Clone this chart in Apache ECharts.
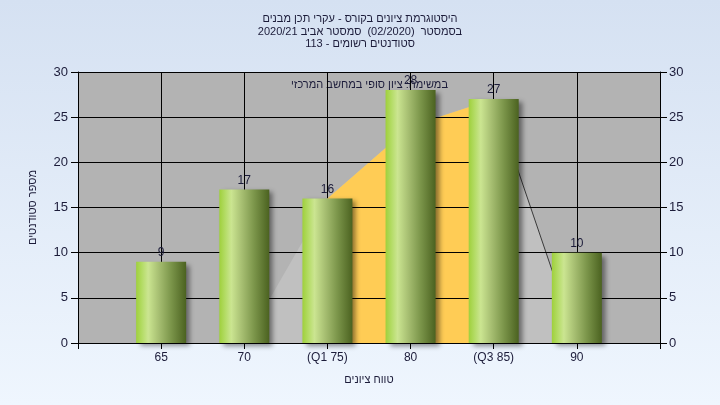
<!DOCTYPE html>
<html>
<head>
<meta charset="utf-8">
<script src="https://cdn.jsdelivr.net/npm/echarts@6/dist/echarts.min.js"></script>
<style>
html,body{margin:0;padding:0;}
#chart{width:720px;height:405px;}
</style>
</head>
<body>
<div id="chart"></div>
<script>
// ---- data ----
const titleLines = [
  'היסטוגרמת ציונים בקורס - עקרי תכן מבנים',
  'בסמסטר  (02/2020)  סמסטר אביב 2020/21',
  'סטודנטים רשומים - 113'
];
const noteText = 'במשימה: ציון סופי במחשב המרכזי';
const xAxisName = 'טווח ציונים';
const yAxisName = 'מספר סטודנטים';
const grades = [65, 70, 75, 80, 85, 90];
const gradeLabels = ['65', '70', '(Q1 75)', '80', '(Q3 85)', '90'];
const counts = [9, 17, 16, 28, 27, 10];
const curveGrades = [65, 70, 75, 80, 85, 90];
const curveValues = [0, 0, 16, 24, 27, 0];
const iqrGrades = [75, 80, 85];
const iqrValues = [16, 24, 27];
const tailGrades = [85, 90];
const tailValues = [27, 0];

const FONT = '"Liberation Sans", "DejaVu Sans", Arial, sans-serif';
const TXT = '#1c1c3a';

const pairs = (xs, ys) => xs.map((x, i) => [x, ys[i]]);
const labelFor = v => { const i = grades.indexOf(v); return i >= 0 ? gradeLabels[i] : ''; };

const chart = echarts.init(document.getElementById('chart'));
chart.setOption({
  backgroundColor: {type: 'linear', x: 0, y: 0, x2: 0, y2: 1,
    colorStops: [{offset: 0, color: '#d5e1f2'}, {offset: 1, color: '#eff6fe'}]},
  textStyle: {fontFamily: FONT},
  title: {
    text: titleLines.join('\n'), left: 'center', top: 8,
    textStyle: {fontSize: 11, fontWeight: 'normal', color: TXT, lineHeight: 12.5, fontFamily: FONT}
  },
  graphic: [{
    type: 'text', left: 291, top: 79,
    style: {text: noteText, font: '11px ' + FONT, fill: TXT}
  }],
  grid: {left: 78, right: 60, top: 72, bottom: 62, show: true, backgroundColor: '#b3b3b3', borderWidth: 0},
  xAxis: [{
    type: 'value', min: 60, max: 95, interval: 5, z: 0,
    axisLine: {show: false}, axisTick: {show: false}, axisLabel: {show: false},
    splitLine: {show: true, lineStyle: {color: '#000', width: 1}}
  }, {
    type: 'value', min: 60, max: 95, interval: 5, z: 5, position: 'bottom',
    axisLine: {show: true, onZero: false, lineStyle: {color: '#000', width: 1}},
    axisTick: {show: true, length: 6, lineStyle: {color: '#000'}},
    splitLine: {show: false},
    axisLabel: {show: true, margin: 9, fontSize: 12, color: TXT, fontFamily: FONT, formatter: labelFor},
    name: xAxisName, nameLocation: 'middle', nameGap: 31,
    nameTextStyle: {fontSize: 11, color: TXT, fontFamily: FONT}
  }],
  yAxis: [{
    type: 'value', min: 0, max: 30, interval: 5, position: 'left', z: 5,
    axisLine: {show: true, lineStyle: {color: '#000'}},
    axisTick: {show: true, length: 7, lineStyle: {color: '#000'}},
    axisLabel: {margin: 10, fontSize: 13, color: TXT, fontFamily: FONT},
    splitLine: {show: true, lineStyle: {color: '#000', width: 1}},
    name: yAxisName, nameLocation: 'middle', nameRotate: 90, nameGap: 40,
    nameTextStyle: {fontSize: 11, color: TXT, fontFamily: FONT}
  }, {
    type: 'value', min: 0, max: 30, interval: 5, position: 'right', z: 5,
    axisLine: {show: true, lineStyle: {color: '#000'}},
    axisTick: {show: true, length: 7, lineStyle: {color: '#000'}},
    axisLabel: {margin: 9, fontSize: 13, color: TXT, fontFamily: FONT},
    splitLine: {show: false}
  }],
  series: [{
    type: 'line', xAxisIndex: 0, yAxisIndex: 0, z: 2, silent: true,
    data: pairs(curveGrades, curveValues), symbol: 'none',
    lineStyle: {width: 0, opacity: 0},
    areaStyle: {color: '#c0c0c0', opacity: 1}
  }, {
    type: 'line', xAxisIndex: 0, yAxisIndex: 0, z: 2, silent: true,
    data: pairs(iqrGrades, iqrValues), symbol: 'none',
    lineStyle: {width: 0, opacity: 0},
    areaStyle: {color: '#ffcc55', opacity: 1}
  }, {
    type: 'line', xAxisIndex: 0, yAxisIndex: 0, z: 2, silent: true,
    data: pairs(tailGrades, tailValues), symbol: 'none',
    lineStyle: {width: 1, color: '#3a3a3a'}
  }, {
    type: 'bar', xAxisIndex: 0, yAxisIndex: 0, z: 6,
    data: pairs(grades, counts), barWidth: 50,
    itemStyle: {
      color: {type: 'linear', x: 0, y: 0, x2: 1, y2: 0, colorStops: [
        {offset: 0, color: '#9fd03c'},
        {offset: 0.12, color: '#b4dc66'},
        {offset: 0.24, color: '#cbe591'},
        {offset: 0.45, color: '#a7bf72'},
        {offset: 0.7, color: '#7b954a'},
        {offset: 1, color: '#4b6220'}
      ]},
      shadowColor: 'rgba(0,0,0,0.45)', shadowBlur: 5, shadowOffsetX: 4, shadowOffsetY: 3
    },
    label: {show: true, position: 'top', distance: 3, fontSize: 12, color: TXT, fontFamily: FONT}
  }]
});
</script>
</body>
</html>
